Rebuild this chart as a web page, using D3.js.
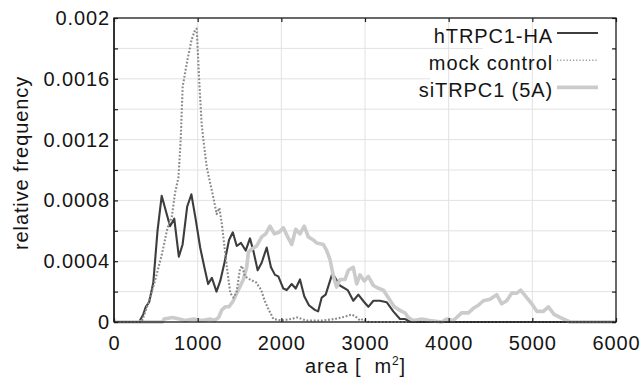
<!DOCTYPE html>
<html>
<head>
<meta charset="utf-8">
<script src="https://cdn.jsdelivr.net/npm/d3@7"></script>
<style>
  html, body { margin: 0; padding: 0; background: #fff; }
  svg text { font-family: "Liberation Sans", Arial, Helvetica, sans-serif; fill: #151515; }
</style>
</head>
<body>
<svg id="chart" width="643" height="381"></svg>
<script>
// ---- data ----
const seriesNames = ["hTRPC1-HA", "mock control", "siTRPC1 (5A)"];

const htrpcX = [0, 300, 350, 380, 420, 470, 520, 570, 620, 670, 720, 775, 820, 875, 925, 975, 1030, 1080, 1125, 1170, 1225, 1270, 1320, 1375, 1420, 1467, 1518, 1574, 1625, 1665, 1717, 1765, 1825, 1876, 1924, 1964, 2024, 2064, 2124, 2172, 2223, 2274, 2330, 2400, 2440, 2482, 2530, 2610, 2700, 2793, 2860, 2920, 2992, 3040, 3100, 3179, 3259, 3338, 3418, 3478, 3550, 6000];
const htrpcY = [0, 0, 0.00005, 0.0001, 0.00013, 0.00026, 0.0006, 0.00083, 0.00073, 0.00063, 0.00068, 0.00043, 0.00051, 0.00076, 0.00084, 0.00068, 0.00049, 0.00036, 0.00025, 0.00029, 0.0002, 0.00027, 0.00039, 0.00054, 0.00059, 0.0005, 0.00052, 0.00047, 0.00055, 0.00047, 0.00034, 0.00039, 0.00049, 0.00036, 0.00031, 0.0003, 0.00022, 0.00021, 0.00025, 0.00022, 0.00028, 0.00017, 0.00011, 0.00008, 0.00007, 0.00016, 0.00018, 0.00032, 0.00024, 0.00021, 0.00014, 0.00018, 0.00013, 0.0001, 0.00014, 0.00014, 0.00013, 0.00007, 0.00002, 0.00002, 0, 0];

const mockX = [0, 330, 370, 430, 490, 570, 640, 690, 730, 770, 797, 821, 876, 929, 968, 988, 1000, 1020, 1048, 1068, 1108, 1147, 1187, 1227, 1260, 1290, 1347, 1390, 1430, 1466, 1506, 1530, 1566, 1625, 1700, 1760, 1800, 1850, 1905, 2000, 2124, 2184, 2244, 2300, 2500, 2641, 2761, 2841, 2901, 2940, 2980, 3040, 6000];
const mockY = [0, 0, 0.00006, 0.00016, 0.00027, 0.00044, 0.00062, 0.00069, 0.00085, 0.00095, 0.0012, 0.00155, 0.00172, 0.00186, 0.00192, 0.00193, 0.0018, 0.00157, 0.0013, 0.0012, 0.00102, 0.00092, 0.00082, 0.00071, 0.00075, 0.00064, 0.00037, 0.00019, 0.00016, 0.0002, 0.00035, 0.00037, 0.0003, 0.00028, 0.00026, 0.00021, 0.00014, 0.00008, 0.00002, 0.00001, 0.00002, 0.00003, 0.00002, 0.00001, 0.00001, 0.00002, 0.000035, 0.00005, 0.00003, 0.00001, 0.00002, 0, 0];

const siX = [0, 580, 600, 700, 780, 850, 950, 1050, 1150, 1200, 1250, 1290, 1330, 1375, 1426, 1486, 1546, 1586, 1606, 1646, 1705, 1765, 1813, 1865, 1916, 1972, 2024, 2076, 2124, 2172, 2223, 2274, 2322, 2382, 2422, 2502, 2542, 2582, 2622, 2661, 2701, 2761, 2801, 2860, 2901, 2940, 2992, 3040, 3100, 3168, 3219, 3279, 3350, 3438, 3478, 3518, 3578, 3677, 3777, 3917, 3976, 4056, 4155, 4235, 4295, 4355, 4415, 4494, 4574, 4634, 4694, 4754, 4814, 4861, 4933, 4993, 5053, 5132, 5192, 5260, 5330, 5450, 6000];
const siY = [0, 0, 0.00002, 0.00003, 0.00002, 0.00001, 0.00002, 0.00001, 0.00002, 0.00001, 0.00003, 0.00008, 0.0001, 0.0001, 0.00014, 0.00021, 0.00028, 0.00036, 0.00046, 0.00048, 0.0005, 0.00056, 0.00058, 0.00063, 0.00058, 0.00059, 0.00062, 0.00056, 0.00051, 0.00061, 0.00058, 0.00063, 0.00056, 0.00054, 0.00052, 0.00051, 0.00047, 0.00041, 0.0003, 0.00023, 0.00028, 0.00028, 0.00034, 0.00036, 0.00025, 0.00031, 0.00027, 0.0003, 0.00024, 0.00022, 0.00021, 0.00016, 0.0001, 0.00007, 0.00006, 0.00003, 0.00001, 0.00002, 0.00001, 0, 0.00002, 0.00001, 0.00006, 0.00006, 0.00009, 0.00011, 0.00014, 0.00015, 0.00018, 0.00012, 0.00014, 0.00019, 0.00019, 0.00021, 0.00016, 0.00012, 0.00007, 0.00007, 0.0001, 0.00005, 0.00003, 0, 0];

const xTicks = [0, 1000, 2000, 3000, 4000, 5000, 6000];
const yTicks = [0, 0.0004, 0.0008, 0.0012, 0.0016, 0.002];
const yTickLabels = ["0", "0.0004", "0.0008", "0.0012", "0.0016", "0.002"];
const yMinorTicks = [0, 0.0002, 0.0004, 0.0006, 0.0008, 0.001, 0.0012, 0.0014, 0.0016, 0.0018, 0.002];

// ---- layout ----
const W = 643, H = 381;
const m = { left: 114, right: 27, top: 18, bottom: 59 };
const pw = W - m.left - m.right, ph = H - m.top - m.bottom;
const svg = d3.select("#chart");
const g = svg.append("g").attr("transform", `translate(${m.left},${m.top})`);

const x = d3.scaleLinear().domain([0, 6000]).range([0, pw]);
const y = d3.scaleLinear().domain([0, 0.002]).range([ph, 0]);

const FS = 20, LS = "0.9px";

// gridlines: horizontal
g.append("g").selectAll("line").data(yMinorTicks.slice(1, -1)).join("line")
  .attr("x1", 0).attr("x2", pw)
  .attr("y1", d => y(d)).attr("y2", d => y(d))
  .attr("stroke", "#e2e2e2").attr("stroke-width", 1);

// legend background (hides part of horizontal grid)
g.append("rect").attr("x", 483 - m.left).attr("y", 22 - m.top).attr("width", 130).attr("height", 28).attr("fill", "#fff");
g.append("rect").attr("x", 430 - m.left).attr("y", 50 - m.top).attr("width", 183).attr("height", 31).attr("fill", "#fff");

// gridlines: vertical
g.append("g").selectAll("line").data(xTicks.slice(1, -1)).join("line")
  .attr("x1", d => x(d)).attr("x2", d => x(d))
  .attr("y1", 0).attr("y2", ph)
  .attr("stroke", "#e2e2e2").attr("stroke-width", 1);

// series
const series = [
  { name: seriesNames[0], xs: htrpcX, ys: htrpcY, color: "#3d3d3d", width: 2.1, dash: null },
  { name: seriesNames[2], xs: siX, ys: siY, color: "#cbcbcb", width: 3.6, dash: null },
  { name: seriesNames[1], xs: mockX, ys: mockY, color: "#8a8a8a", width: 2.1, dash: "1.8,1.8" }
];
const line = d3.line().x(d => x(d[0])).y(d => y(d[1]));
series.forEach(s => {
  const pts = s.xs.map((v, i) => [v, s.ys[i]]);
  g.append("path").datum(pts).attr("d", line)
    .attr("fill", "none").attr("stroke", s.color).attr("stroke-width", s.width)
    .attr("stroke-linejoin", "round")
    .attr("stroke-dasharray", s.dash);
});

// frame
g.append("rect").attr("x", 0).attr("y", 0).attr("width", pw).attr("height", ph)
  .attr("fill", "none").attr("stroke", "#1a1a1a").attr("stroke-width", 1.3);
g.append("line").attr("x1", 0).attr("x2", 0).attr("y1", 0).attr("y2", ph)
  .attr("stroke", "#333").attr("stroke-width", 2);

// axes with inward ticks
const yAxisL = d3.axisLeft(y).tickValues(yMinorTicks).tickSize(-4).tickFormat("");
const yAxisR = d3.axisRight(y).tickValues(yMinorTicks).tickSize(-4).tickFormat("");
const xAxisB = d3.axisBottom(x).tickValues(xTicks).tickSize(-4).tickFormat("");
const xAxisT = d3.axisTop(x).tickValues(xTicks).tickSize(-4).tickFormat("");
[[yAxisL, `translate(0,0)`], [yAxisR, `translate(${pw},0)`], [xAxisB, `translate(0,${ph})`], [xAxisT, `translate(0,0)`]].forEach(([ax, tr]) => {
  const a = g.append("g").attr("transform", tr).call(ax);
  a.select(".domain").remove();
  a.selectAll(".tick line").attr("stroke", "#1a1a1a").attr("stroke-width", 1.2);
});

// tick labels
g.append("g").selectAll("text").data(yTicks).join("text")
  .attr("x", -4).attr("y", d => y(d) + 7)
  .attr("text-anchor", "end").attr("font-size", FS).style("letter-spacing", LS)
  .text((d, i) => yTickLabels[i]);
g.append("g").selectAll("text").data(xTicks).join("text")
  .attr("x", d => x(d) + 0.5).attr("y", ph + 28)
  .attr("text-anchor", "middle").attr("font-size", FS).style("letter-spacing", LS)
  .text(d => String(d));

// axis titles
svg.append("text").attr("transform", `translate(28,${m.top + ph / 2 - 7}) rotate(-90)`)
  .attr("text-anchor", "middle").attr("font-size", FS).style("letter-spacing", LS)
  .text("relative frequency");
const xt = svg.append("text").attr("x", 305).attr("y", 373)
  .attr("font-size", FS).style("letter-spacing", LS);
xt.append("tspan").text("area [\u00a0\u00a0m");
xt.append("tspan").attr("font-size", 12).attr("dy", -8).text("2");
xt.append("tspan").attr("dy", 8).text("]");

// legend
const legendOrder = [
  { name: seriesNames[0], color: "#3d3d3d", width: 2, dash: null },
  { name: seriesNames[1], color: "#9a9a9a", width: 1.5, dash: "1.2,2" },
  { name: seriesNames[2], color: "#cbcbcb", width: 3.6, dash: null }
];
const lg = svg.append("g");
legendOrder.forEach((s, i) => {
  const by = 43 + i * 27.2;
  lg.append("text").attr("x", 553).attr("y", by).attr("text-anchor", "end")
    .attr("font-size", FS).style("letter-spacing", LS).text(s.name);
  lg.append("line").attr("x1", 557).attr("x2", 598).attr("y1", by - 10).attr("y2", by - 10)
    .attr("stroke", s.color).attr("stroke-width", s.width).attr("stroke-dasharray", s.dash);
});
</script>
</body>
</html>
